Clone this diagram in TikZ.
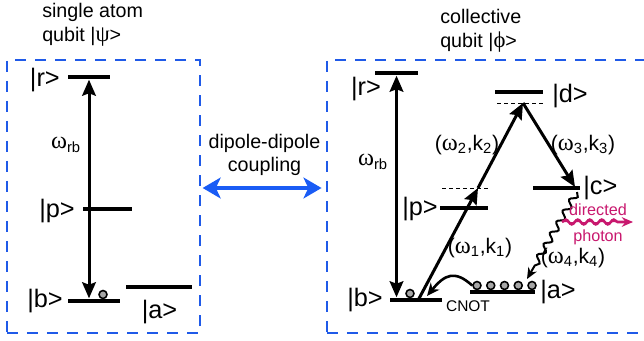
\documentclass[tikz,border=0pt]{standalone}
\usepackage{fontspec}
\setmainfont{Liberation Sans}
\newfontfamily\grk{Liberation Serif}[Scale=1.15]
\usetikzlibrary{arrows.meta,decorations.pathmorphing}
\definecolor{frame}{HTML}{1F5AE8}
\definecolor{couple}{HTML}{1A5CF5}
\definecolor{photon}{HTML}{C8186E}
\tikzset{
  font=\fontsize{14}{17}\selectfont,
  lvl/.style={fill=black, inner sep=0pt, minimum height=0.12cm},
  virtual/.style={draw=black, dash pattern=on 3pt off 2pt, line width=0.6pt},
  ket/.style={font=\fontsize{18}{20}\selectfont, inner sep=0pt},
  tlabel/.style={font=\fontsize{15}{17}\selectfont, inner sep=0pt},
  title/.style={align=left, anchor=west, inner sep=0pt},
  arrow/.style={->, >={Stealth[length=0.4cm, width=0.34cm, inset=0.06cm]}, line width=0.075cm},
  panel/.style={draw=frame, line width=0.06cm, dash pattern=on 0.28cm off 0.22cm, minimum height=6.825cm, inner sep=0pt},
  atom/.style={circle, draw=black, fill=black!35, line width=1.1pt, inner sep=0pt, minimum size=0.2cm},
  wave/.style={decorate, decoration={snake, amplitude=0.08cm, segment length=0.32cm, post length=0.25cm}},
}
\begin{document}
\begin{tikzpicture}[x=0.025cm, y=-0.025cm,
  couplearrow/.style={<->, >={Stealth[length=0.45cm, width=0.52cm, inset=0.12cm]}, draw=couple, line width=0.085cm},
  emission/.style={wave, ->, >={Stealth[length=0.28cm, width=0.24cm]}, line width=0.05cm}]
\useasboundingbox (0,0) rectangle (644,341);
% panels
\node[panel, minimum width=4.825cm] (left) at (103.5,196.5) {};
\node[panel, minimum width=9.325cm] (right) at (513.5,196.5) {};
\node[title] (tA) at (42,25) {single atom\\qubit |{\grk ψ}>};
\node[title] (tB) at (440,30.5) {collective\\qubit |{\grk ϕ}>};
\node[align=center, inner sep=0pt, font=\fontsize{14}{16.4}\selectfont] (dip) at (264.5,154.5) {dipole-dipole\\coupling};
\coordinate (cpl) at (262,188);
\draw[couplearrow, shorten <=1pt, shorten >=3pt] (left.east |- cpl) -- (right.west |- cpl);
% single atom
\node[lvl, minimum width=1.05cm] (rA) at (89,77) {};
\node[lvl, minimum width=1.225cm] (pA) at (107.5,209) {};
\node[lvl, minimum width=1.3cm] (bA) at (94,301) {};
\node[lvl, minimum width=1.65cm] (aA) at (159,287) {};
\node[ket, anchor=east] (rAk) at (60,80) {|r>};
\node[ket, anchor=east] (pAk) at (75,211) {|p>};
\node[ket, anchor=east] (bAk) at (63,301) {|b>};
\node[ket] (aAk) at (159.5,312) {|a>};
\node[atom] (qA) at (103,294.5) {};
\node[tlabel] (wA) at (66,145) {{\grk ω}\textsubscript{rb}};
\draw[arrow, <->] (rA.south) -- (rA.south |- bA.north);
% collective qubit
\node[lvl, minimum width=1.075cm] (rB) at (396.5,73) {};
\node[lvl, minimum width=1.2cm] (dB) at (519,92) {};
\node[lvl, minimum width=1.2cm] (pB) at (464,208) {};
\node[lvl, minimum width=1.175cm] (cB) at (556,188) {};
\node[lvl, minimum width=1.3cm] (bB) at (416,300) {};
\node[lvl, minimum width=1.625cm] (aB) at (502.5,292) {};
\draw[virtual] (497,103) -- (545,103);
\draw[virtual] (442,188) -- (490,188);
\node[ket] (rBk) at (366,89) {|r>};
\node[ket] (dBk) at (570,96) {|d>};
\node[ket, anchor=east] (pBk) at (438,209) {|p>};
\node[ket, anchor=west] (cBk) at (583,188) {|c>};
\node[ket, anchor=east] (bBk) at (383,300) {|b>};
\node[ket, anchor=west] (aBk) at (540,292) {|a>};
\node[inner sep=0pt, font=\fontsize{11}{13}\selectfont] (cnot) at (468,306) {CNOT};
\node[atom] (qB) at (410,293.5) {};
\foreach \i in {0,...,4}
  \node[atom] (qa\i) at (477+13.75*\i,285.5) {};
\node[tlabel] (wB) at (373,162) {{\grk ω}\textsubscript{rb}};
\draw[arrow, <->] (rB.south) -- (rB.south |- bB.north);
% Raman transitions
\coordinate (b1) at (419,298.5);
\coordinate (v1) at (478,188);
\coordinate (v2) at (523,103);
\coordinate (c1) at (575,187);
\draw[arrow] (b1) -- (v1);
\draw[arrow] (v1) -- (v2);
\draw[arrow] (v2) -- (c1);
\node[tlabel] (k1) at (480,248) {({\grk ω}\textsubscript{1},k\textsubscript{1})};
\node[tlabel] (k2) at (467,145) {({\grk ω}\textsubscript{2},k\textsubscript{2})};
\node[tlabel] (k3) at (583,145) {({\grk ω}\textsubscript{3},k\textsubscript{3})};
\node[tlabel] (k4) at (573,258) {({\grk ω}\textsubscript{4},k\textsubscript{4})};
% emission and CNOT
\coordinate (c2) at (577,192);
\coordinate (a1) at (527,279);
\draw[emission] (c2) -- (a1);
\draw[emission, draw=photon, fill=photon, line width=0.065cm, decoration={snake, amplitude=0.06cm, segment length=0.3cm, post length=0.25cm}] (562,222) -- (633,222);
\node[align=center, inner sep=0pt, text=photon, font=\fontsize{11.5}{18.5}\selectfont] (dirph) at (598,224) {directed\\photon};
\draw[->, >={Stealth[length=0.32cm, width=0.28cm]}, line width=0.065cm] (qa0.west) .. controls (455,270) and (445,274) .. (427,296);
\end{tikzpicture}
\end{document}
